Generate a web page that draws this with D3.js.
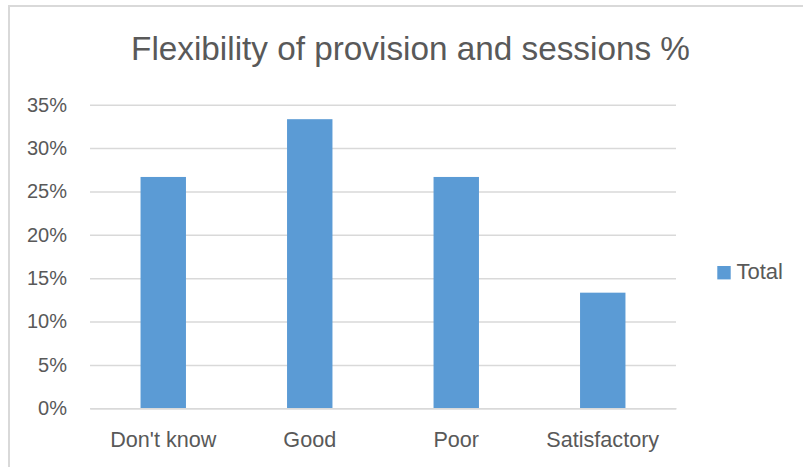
<!DOCTYPE html>
<html>
<head>
<meta charset="utf-8">
<script src="https://cdn.jsdelivr.net/npm/d3@7"></script>
<style>
  html, body { margin: 0; padding: 0; background: #fff; }
  svg { display: block; }
  text { font-family: "Liberation Sans", Arial, sans-serif; fill: #595959; }
</style>
</head>
<body>
<svg id="chart" width="803" height="467"></svg>
<script>
const title = "Flexibility of provision and sessions %";
const categories = ["Don't know", "Good", "Poor", "Satisfactory"];
const totalValues = [0.2667, 0.3333, 0.2667, 0.1333];
const yTicks = [0, 0.05, 0.10, 0.15, 0.20, 0.25, 0.30, 0.35];
const seriesName = "Total";

const svg = d3.select("#chart");
const W = 803, H = 467;
const plot = { left: 90, right: 676, top: 104.7, bottom: 408.3 };
const barColor = "#5b9bd5";

svg.append("rect").attr("width", W).attr("height", H).attr("fill", "#fff");
// outer chart border (top & left visible)
svg.append("rect")
  .attr("x", 9).attr("y", 6)
  .attr("width", W + 20).attr("height", H + 20)
  .attr("fill", "none").attr("stroke", "#d9d9d9").attr("stroke-width", 2);

// title
svg.append("text")
  .attr("x", 410.5).attr("y", 60)
  .attr("text-anchor", "middle")
  .attr("font-size", 33.3)
  .text(title);

const x = d3.scaleBand()
  .domain(categories)
  .range([plot.left, plot.right])
  .paddingInner(0.69)
  .paddingOuter(0.345);

const y = d3.scaleLinear()
  .domain([0, 0.35])
  .range([plot.bottom, plot.top]);

// gridlines via axis
const grid = svg.append("g")
  .attr("transform", `translate(${plot.left},0)`)
  .call(d3.axisLeft(y).tickValues(yTicks).tickSize(-(plot.right - plot.left)).tickFormat(""));
grid.select(".domain").remove();
grid.selectAll("line").attr("stroke", "#d9d9d9").attr("stroke-width", 1.5);

// y tick labels
const yAxis = svg.append("g")
  .attr("transform", `translate(${plot.left},0)`)
  .call(d3.axisLeft(y).tickValues(yTicks).tickSize(0).tickPadding(23).tickFormat(d3.format(".0%")));
yAxis.select(".domain").remove();
yAxis.selectAll("text")
  .attr("font-size", 20)
  .attr("font-family", "Liberation Sans, Arial, sans-serif")
  .attr("fill", "#595959");

// bars
svg.append("g").selectAll("rect")
  .data(categories)
  .join("rect")
  .attr("x", d => x(d))
  .attr("width", x.bandwidth())
  .attr("y", (d, i) => y(totalValues[i]))
  .attr("height", (d, i) => y(0) - y(totalValues[i]))
  .attr("fill", barColor);

// x axis
const xAxis = svg.append("g")
  .attr("transform", `translate(0,${plot.bottom})`)
  .call(d3.axisBottom(x).tickSize(0).tickPadding(0));
xAxis.select(".domain").attr("stroke", "#d9d9d9").attr("stroke-width", 1.5);
xAxis.selectAll("text")
  .attr("font-size", 21.6)
  .attr("font-family", "Liberation Sans, Arial, sans-serif")
  .attr("fill", "#595959")
  .attr("dy", null)
  .attr("y", 39);

// legend
const lg = svg.append("g");
lg.append("rect")
  .attr("x", 717.3).attr("y", 266)
  .attr("width", 13.4).attr("height", 13.4)
  .attr("fill", barColor);
lg.append("text")
  .attr("x", 736.5).attr("y", 279.3)
  .attr("font-size", 22)
  .text(seriesName);
</script>
</body>
</html>
